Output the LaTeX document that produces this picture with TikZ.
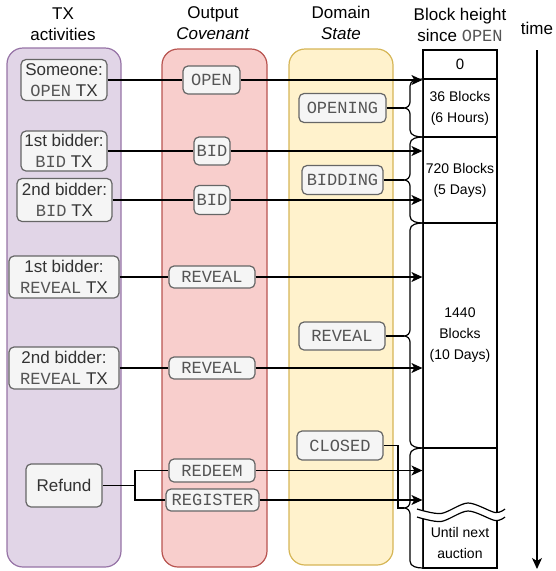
\documentclass[tikz,border=0pt]{standalone}
\usepackage{fontspec}
\setmainfont{Liberation Sans}
\setmonofont{Liberation Mono}
\usetikzlibrary{arrows.meta,calc}
\definecolor{purfill}{HTML}{E1D5E7}
\definecolor{purline}{HTML}{9673A6}
\definecolor{redfill}{HTML}{F8CECC}
\definecolor{redline}{HTML}{B85450}
\definecolor{yelfill}{HTML}{FFF2CC}
\definecolor{yelline}{HTML}{D6B656}
\definecolor{boxfill}{HTML}{F5F5F5}
\definecolor{boxline}{HTML}{666666}
\definecolor{boxtext}{HTML}{333333}
\definecolor{monotext}{HTML}{555555}
\newcommand\mtt[1]{{\ttfamily\color{monotext}#1}}
\newcommand\curlyb[3]{\draw[link] (423,#1) to[out=180,in=90] (410,#1+7) -- (410,#3-6) to[out=-90,in=0] (404,#3) to[out=0,in=90] (410,#3+6) -- (410,#2-7) to[out=-90,in=180] (423,#2);}
\begin{document}
\begin{tikzpicture}[x=1pt,y=-1pt,
  container/.style={rounded corners=16pt,line width=1.2pt},
  box/.style={draw=boxline,fill=boxfill,rounded corners=5pt,line width=1.2pt,text=boxtext,inner sep=0pt,align=center,font=\fontsize{17}{21}\selectfont},
  cell/.style={draw=black,line width=1.2pt,inner sep=0pt,align=center,minimum width=74pt,font=\fontsize{14}{21}\selectfont},
  head/.style={align=center,font=\fontsize{17}{21}\selectfont,inner sep=0pt},
  link/.style={line width=1.2pt,draw=black},
  arr/.style={link,-{Stealth[length=11pt,width=10pt,inset=3pt]}},
]
\useasboundingbox (0,0) rectangle (556,571);
% containers
\draw[container,fill=purfill,draw=purline] (7,48) rectangle (121,567);
\draw[container,fill=redfill,draw=redline] (162,49) rectangle (267,567);
\draw[container,fill=yelfill,draw=yelline] (289,49) rectangle (393,565);
% headers
\node[head] (h1) at (63,24) {TX\\activities};
\node[head] (h2) at (213,23) {Output\\\textit{Covenant}};
\node[head] (h3) at (341,23) {Domain\\\textit{State}};
\node[head] (h4) at (460,25) {Block height\\since \mtt{OPEN}};
\node[head] (h5) at (537,28) {time};
% TX boxes
\node[box,minimum width=86pt,minimum height=41pt] (someone) at (64,80) {Someone:\\\mtt{OPEN}~TX};
\node[box,minimum width=86pt,minimum height=40pt] (bid1tx) at (64,151) {1st bidder:\\\mtt{BID}~TX};
\node[box,minimum width=95pt,minimum height=43pt] (bid2tx) at (64.5,200) {2nd bidder:\\\mtt{BID}~TX};
\node[box,minimum width=110pt,minimum height=42pt] (rev1tx) at (64,277) {1st bidder:\\\mtt{REVEAL}~TX};
\node[box,minimum width=110pt,minimum height=42pt] (rev2tx) at (64,368) {2nd bidder:\\\mtt{REVEAL}~TX};
\node[box,minimum width=76pt,minimum height=43pt] (refund) at (64,485.5) {Refund};
% covenant boxes
\node[box,minimum width=57pt,minimum height=28pt] (openC) at (211.5,80) {\mtt{OPEN}};
\node[box,minimum width=36pt,minimum height=28pt] (bidC1) at (212,151) {\mtt{BID}};
\node[box,minimum width=36pt,minimum height=29pt] (bidC2) at (212,200) {\mtt{BID}};
\node[box,minimum width=86pt,minimum height=22pt] (revC1) at (212,277) {\mtt{REVEAL}};
\node[box,minimum width=86pt,minimum height=22pt] (revC2) at (212,368) {\mtt{REVEAL}};
\node[box,minimum width=86pt,minimum height=23pt] (redeem) at (212,470.5) {\mtt{REDEEM}};
\node[box,minimum width=93pt,minimum height=22pt] (register) at (212.5,500) {\mtt{REGISTER}};
% state boxes
\node[box,minimum width=87pt,minimum height=29pt] (opening) at (342.5,108) {\mtt{OPENING}};
\node[box,minimum width=81pt,minimum height=29pt] (bidding) at (342.5,180) {\mtt{BIDDING}};
\node[box,minimum width=86pt,minimum height=28pt] (revealS) at (342,336) {\mtt{REVEAL}};
\node[box,minimum width=86pt,minimum height=29pt] (closed) at (340,445.5) {\mtt{CLOSED}};
% block column
\node[cell,minimum height=29pt,font=\fontsize{15}{18}\selectfont] (c0) at (460,64.5) {0};
\node[cell,minimum height=58pt] (c1) at (460,108) {36 Blocks\\(6 Hours)};
\node[cell,minimum height=86pt] (c2) at (460,180) {720 Blocks\\(5 Days)};
\node[cell,minimum height=225pt] (c3) at (460,335.5) {1440\\Blocks\\(10 Days)};
\node[cell,minimum height=120pt] (c4) at (460,508) {};
\node[inner sep=0pt,align=center,font=\fontsize{14}{21}\selectfont] (c4t) at (460,542.5) {Until next\\auction};
\draw[line width=1.8pt,draw=black!85] (c1.north west) -- (c4.south west);
% wave break
\fill[white] plot[smooth] coordinates {(417,509) (441,513.5) (468,503) (495,512.5) (505,509)}
  -- plot[smooth] coordinates {(505,517) (495,520.5) (468,511) (441,521.5) (417,517)} -- cycle;
\draw[link] plot[smooth] coordinates {(417,509) (441,513.5) (468,503) (495,512.5) (505,509)};
\draw[link] plot[smooth] coordinates {(417,517) (441,521.5) (468,511) (495,520.5) (505,517)};
% braces
\curlyb{79}{137}{108}
\curlyb{137}{223}{180}
\curlyb{223}{448}{336}
\curlyb{448}{568}{508}
\coordinate (tip1) at (404,108);
\coordinate (tip2) at (404,180);
\coordinate (tip3) at (404,336);
\coordinate (tip4) at (404,508);
\coordinate (cb) at (398,508);
% connectors
\draw[link] (someone.east) -- (openC.west);
\draw[arr] (openC.east) -- (openC.east -| c1.west);
\draw[link] (bid1tx.east) -- (bidC1.west);
\draw[arr] (bidC1.east) -- (bidC1.east -| c2.west);
\draw[link] (bid2tx.east) -- (bidC2.west);
\draw[arr] (bidC2.east) -- (bidC2.east -| c2.west);
\draw[link] (rev1tx.east) -- (revC1.west);
\draw[arr] (revC1.east) -- (revC1.east -| c3.west);
\draw[link] (rev2tx.east) -- (revC2.west);
\draw[arr] (revC2.east) -- (revC2.east -| c3.west);
\coordinate (j) at (135,485.5);
\draw[link] (refund.east) -- (j);
\draw[link] (j) |- (redeem.west);
\draw[link] (j) |- (register.west);
\draw[arr] (redeem.east) -- (redeem.east -| c4.west);
\draw[arr] (register.east) -- (register.east -| c4.west);
\draw[link] (opening.east) -- (tip1);
\draw[link] (bidding.east) -- (tip2);
\draw[link] (revealS.east) -- (tip3);
\draw[link] (closed.east) -| (cb) -- (tip4);
% time arrow
\coordinate (ts) at (537,50);
\coordinate (te) at (537,569);
\draw[arr] (ts) -- (te);
\end{tikzpicture}
\end{document}
